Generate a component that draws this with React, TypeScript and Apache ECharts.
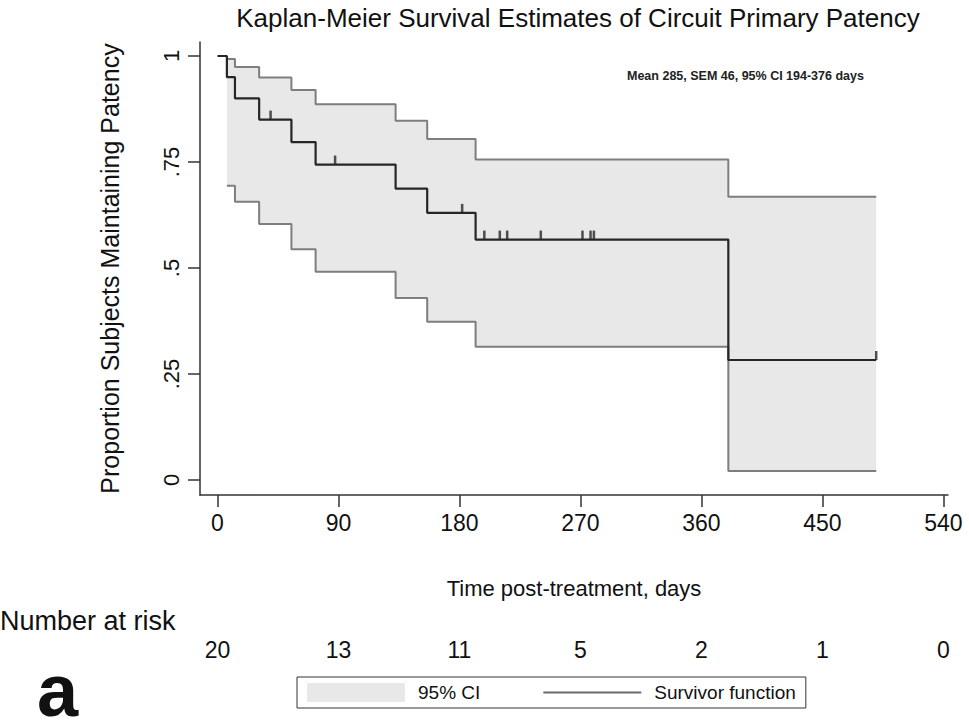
import React, { useEffect, useRef } from "react";
import * as echarts from "echarts";

// Kaplan-Meier survivor function (time in days, proportion)
const eventTimes = [0, 7, 13, 31, 55, 73, 132.5, 156, 192, 380, 490];
const survival = [1, 0.95, 0.9, 0.85, 0.797, 0.744, 0.687, 0.63, 0.567, 0.283, 0.283];

// 95% confidence band
const ciTimes = [7, 13, 31, 55, 73, 132.5, 156, 192, 380, 490];
const ciLower = [0.694, 0.656, 0.604, 0.544, 0.491, 0.429, 0.373, 0.314, 0.021, 0.021];
const ciUpper = [0.993, 0.974, 0.949, 0.92, 0.886, 0.847, 0.804, 0.756, 0.668, 0.668];

// censored observations
const censorTimes = [39.5, 87.5, 182, 198.5, 210, 215.5, 240.5, 271.5, 277.5, 280, 490];
const censorSurvival = [0.85, 0.744, 0.63, 0.567, 0.567, 0.567, 0.567, 0.567, 0.567, 0.567, 0.283];

// axes
const xTicks = [0, 90, 180, 270, 360, 450, 540];
const yTicks = [0, 0.25, 0.5, 0.75, 1];
const numberAtRisk = [20, 13, 11, 5, 2, 1, 0];

const FONT = "'Liberation Sans', Arial, Helvetica, sans-serif";
const X_MIN = -13;
const X_MAX = 543.4;
const Y_MIN = -0.0354;
const Y_MAX = 1.033;

function yLabel(v: number): string {
  if (v === 0) return "0";
  if (v === 1) return "1";
  return String(v).replace(/^0/, "");
}

export default function App() {
  const ref = useRef<HTMLDivElement>(null);

  useEffect(() => {
    if (!ref.current) return;
    const chart = echarts.init(ref.current, undefined, { renderer: "svg" });

    const survData = eventTimes.map((t, i) => [t, survival[i]]);
    const lowerData = ciTimes.map((t, i) => [t, ciLower[i]]);
    const upperData = ciTimes.map((t, i) => [t, ciUpper[i]]);
    const censorData = censorTimes.map((t, i) => [t, censorSurvival[i]]);
    const bandData = ciTimes.map((t, i) => [t, ciLower[i], ciUpper[i]]);

    const axisLineStyle = { color: "#333", width: 1.5 };

    const option: any = {
      animation: false,
      backgroundColor: "#fff",
      textStyle: { fontFamily: FONT },
      grid: [
        { left: 200, right: 969 - 948, top: 42, bottom: 723 - 495 },
        { left: 200, right: 969 - 948, top: 636, height: 1 },
      ],
      xAxis: [
        {
          type: "value",
          gridIndex: 0,
          min: X_MIN,
          max: X_MAX,
          axisLine: { show: true, onZero: false, lineStyle: axisLineStyle },
          axisTick: { show: true, length: 12, customValues: xTicks, lineStyle: axisLineStyle },
          axisLabel: { customValues: xTicks, fontSize: 23, color: "#111", margin: 16, fontFamily: FONT },
          splitLine: { show: false },
          name: "Time post-treatment, days",
          nameLocation: "middle",
          nameGap: 82,
          nameTextStyle: { fontSize: 22, color: "#111", fontFamily: FONT },
        },
        {
          type: "value",
          gridIndex: 1,
          min: X_MIN,
          max: X_MAX,
          axisLine: { show: false },
          axisTick: { show: false },
          splitLine: { show: false },
          axisLabel: {
            customValues: xTicks,
            fontSize: 23,
            color: "#111",
            margin: 1,
            fontFamily: FONT,
            formatter: (v: number) => {
              const k = xTicks.indexOf(v);
              return k >= 0 ? String(numberAtRisk[k]) : "";
            },
          },
        },
      ],
      yAxis: [
        {
          type: "value",
          gridIndex: 0,
          min: Y_MIN,
          max: Y_MAX,
          axisLine: { show: true, onZero: false, lineStyle: axisLineStyle },
          axisTick: { show: true, length: 12, customValues: yTicks, lineStyle: axisLineStyle },
          axisLabel: {
            customValues: yTicks,
            rotate: 90,
            fontSize: 22,
            color: "#111",
            margin: 18,
            fontFamily: FONT,
            formatter: (v: number) => yLabel(v),
          },
          splitLine: { show: false },
          name: "Proportion Subjects Maintaining Patency",
          nameLocation: "middle",
          nameRotate: 90,
          nameGap: 78,
          nameTextStyle: { fontSize: 25, color: "#111", fontFamily: FONT },
        },
        { type: "value", gridIndex: 1, show: false, min: 0, max: 1 },
      ],
      legend: {
        left: 297,
        top: 677,
        orient: "horizontal",
        padding: [6, 10],
        itemWidth: 98,
        itemHeight: 19,
        itemGap: 63,
        borderColor: "#333",
        borderWidth: 1,
        borderRadius: 0,
        selectedMode: false,
        textStyle: { fontSize: 19, color: "#111", fontFamily: FONT, padding: [0, 0, 0, 8] },
        data: [
          { name: "95% CI", icon: "rect", itemStyle: { color: "#e8e8e8", borderWidth: 0 } },
          {
            name: "Survivor function",
            icon: "path://M0 0H100V2H0Z",
            itemStyle: { color: "#6a6a6a", borderWidth: 0 },
          },
        ],
      },
      graphic: [
        {
          type: "text",
          x: 578,
          y: 18,
          style: {
            text: "Kaplan-Meier Survival Estimates of Circuit Primary Patency",
            fontSize: 26,
            fontFamily: FONT,
            fill: "#111",
            align: "center",
            verticalAlign: "middle",
          },
        },
        {
          type: "text",
          x: 627,
          y: 76,
          style: {
            text: "Mean 285, SEM 46, 95% CI 194-376 days",
            fontSize: 12.5,
            fontWeight: "bold",
            fontFamily: FONT,
            fill: "#222",
            align: "left",
            verticalAlign: "middle",
          },
        },
        {
          type: "text",
          x: 0,
          y: 621,
          style: {
            text: "Number at risk",
            fontSize: 27,
            fontFamily: FONT,
            fill: "#111",
            align: "left",
            verticalAlign: "middle",
          },
        },
        {
          type: "text",
          x: 37,
          y: 690,
          style: {
            text: "a",
            fontSize: 74,
            lineHeight: 50,
            fontWeight: "bold",
            fontFamily: FONT,
            fill: "#111",
            align: "left",
            verticalAlign: "middle",
          },
        },
      ],
      series: [
        {
          name: "95% CI",
          type: "custom",
          xAxisIndex: 0,
          yAxisIndex: 0,
          z: 1,
          silent: true,
          itemStyle: { color: "#e8e8e8" },
          data: bandData,
          renderItem: (params: any, api: any) => {
            if (params.dataIndex !== 0) return null;
            const pts: number[][] = [];
            for (let i = 0; i < bandData.length - 1; i++) {
              pts.push(api.coord([bandData[i][0], bandData[i][2]]));
              pts.push(api.coord([bandData[i + 1][0], bandData[i][2]]));
            }
            for (let i = bandData.length - 2; i >= 0; i--) {
              pts.push(api.coord([bandData[i + 1][0], bandData[i][1]]));
              pts.push(api.coord([bandData[i][0], bandData[i][1]]));
            }
            return {
              type: "polygon",
              shape: { points: pts },
              style: { fill: "#e8e8e8", stroke: "none" },
            };
          },
        },
        {
          name: "lower",
          type: "line",
          step: "end",
          xAxisIndex: 0,
          yAxisIndex: 0,
          data: lowerData,
          symbol: "none",
          z: 3,
          silent: true,
          lineStyle: { color: "#7e7e7e", width: 2 },
        },
        {
          name: "upper",
          type: "line",
          step: "end",
          xAxisIndex: 0,
          yAxisIndex: 0,
          data: upperData,
          symbol: "none",
          z: 3,
          silent: true,
          lineStyle: { color: "#7e7e7e", width: 2 },
        },
        {
          name: "Survivor function",
          type: "line",
          step: "end",
          xAxisIndex: 0,
          yAxisIndex: 0,
          data: survData,
          symbol: "none",
          z: 4,
          silent: true,
          color: "#2a2a2a",
          lineStyle: { color: "#262626", width: 2.2 },
        },
        {
          name: "censored",
          type: "scatter",
          xAxisIndex: 0,
          yAxisIndex: 0,
          data: censorData,
          symbol: "rect",
          symbolSize: [2.5, 9],
          symbolOffset: [0, -4.5],
          z: 5,
          silent: true,
          itemStyle: { color: "#262626" },
        },
      ],
    };

    chart.setOption(option);
    return () => chart.dispose();
  }, []);

  return (
    <div
      ref={ref}
      style={{ position: "fixed", left: 0, top: 0, width: 969, height: 723, background: "#fff" }}
    />
  );
}
